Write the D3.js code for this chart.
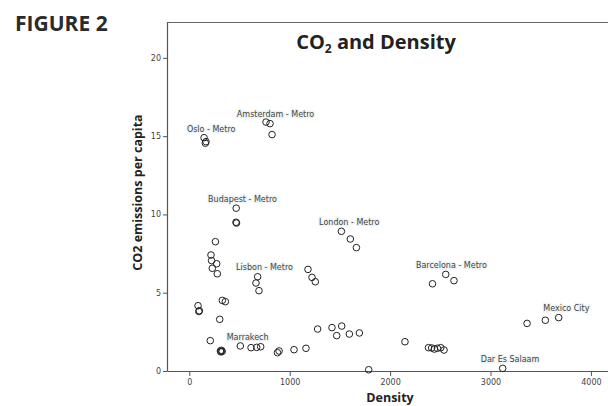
<!DOCTYPE html>
<html>
<head>
<meta charset="utf-8">
<script src="https://cdn.jsdelivr.net/npm/d3@7"></script>
<style>
  html, body { margin: 0; padding: 0; background: #fff; }
  svg { display: block; }
</style>
</head>
<body>
<div id="chart"></div>
<script>
// data
const density = [
  147, 166, 160,
  764, 804, 824,
  467, 465, 470,
  260, 216, 222, 273, 229, 279,
  681, 664, 694,
  1182, 1222, 1255,
  329, 359,
  87, 100, 95,
  303, 209,
  310, 320, 328, 315,
  508, 615, 671, 711,
  878, 894, 1043, 1162,
  1278, 1421, 1468, 1518, 1594, 1694,
  1515, 1604, 1664,
  1787, 2148,
  2382, 2414, 2441, 2471, 2504, 2537,
  2422, 2554, 2636,
  3364, 3546, 3679,
  3121
];
const co2 = [
  14.9, 14.65, 14.55,
  15.9, 15.8, 15.1,
  10.4, 9.5, 9.45,
  8.26, 7.41, 7.05, 6.85, 6.56, 6.21,
  6.02, 5.62, 5.13,
  6.49, 5.98, 5.70,
  4.51, 4.43,
  4.17, 3.85, 3.8,
  3.30, 1.94,
  1.28, 1.32, 1.25, 1.22,
  1.60, 1.49, 1.51, 1.55,
  1.17, 1.28, 1.36, 1.45,
  2.68, 2.77, 2.26, 2.87, 2.36, 2.43,
  8.92, 8.43, 7.88,
  0.08, 1.87,
  1.49, 1.47, 1.40, 1.45, 1.49, 1.34,
  5.57, 6.17, 5.77,
  3.04, 3.24, 3.41,
  0.17
];

// city labels, centred at these data coordinates
const labelNames = ["Oslo - Metro", "Amsterdam - Metro", "Budapest - Metro", "London - Metro",
  "Lisbon - Metro", "Barcelona - Metro", "Mexico City", "Marrakech", "Dar Es Salaam"];
const labelX = [218, 859, 530, 1593, 749, 2610, 3755, 581, 3194];
const labelY = [15.45, 16.37, 10.98, 9.50, 6.60, 6.77, 4.0, 2.19, 0.75];

const xTicks = [0, 1000, 2000, 3000, 4000];
const yTicks = [0, 5, 10, 15, 20];

const W = 608, H = 406;
const plot = { left: 167, top: 22, right: 608, bottom: 371 };

const svg = d3.select("#chart").append("svg")
  .attr("width", W)
  .attr("height", H);

const x = d3.scaleLinear()
  .domain([-222, 4170])
  .range([plot.left, plot.right]);

const y = d3.scaleLinear()
  .domain([0, 22.29])
  .range([plot.bottom, plot.top]);

// frame: top border
svg.append("line")
  .attr("x1", plot.left).attr("x2", plot.right)
  .attr("y1", plot.top + 0.5).attr("y2", plot.top + 0.5)
  .attr("stroke", "#666").attr("stroke-width", 1.2);

const xAxis = svg.append("g")
  .attr("transform", `translate(0,${plot.bottom})`)
  .call(d3.axisBottom(x).tickValues(xTicks).tickFormat(d3.format("d"))
    .tickSize(5).tickSizeOuter(0).tickPadding(3));

const yAxis = svg.append("g")
  .attr("transform", `translate(${plot.left},0)`)
  .call(d3.axisLeft(y).tickValues(yTicks).tickSize(4).tickSizeOuter(0).tickPadding(2));

[xAxis, yAxis].forEach(g => {
  g.select(".domain").attr("stroke", "#555").attr("stroke-width", 1.2);
  g.selectAll(".tick line").attr("stroke", "#555");
  g.selectAll(".tick text")
    .attr("fill", "#444")
    .style("font-family", "DejaVu Sans, sans-serif")
    .style("font-size", "8px");
});

// points
svg.append("g")
  .selectAll("circle")
  .data(density)
  .join("circle")
  .attr("cx", d => x(d))
  .attr("cy", (d, i) => y(co2[i]))
  .attr("r", 3.3)
  .attr("fill", "none")
  .attr("stroke", "#222")
  .attr("stroke-width", 1);

// labels
svg.append("g")
  .selectAll("text")
  .data(labelNames)
  .join("text")
  .attr("x", (d, i) => x(labelX[i]))
  .attr("y", (d, i) => y(labelY[i]))
  .attr("dy", "0.35em")
  .attr("text-anchor", "middle")
  .attr("fill", "#444")
  .attr("stroke", "#eef4f4")
  .attr("stroke-width", 2.5)
  .attr("paint-order", "stroke")
  .style("font-family", "DejaVu Sans, sans-serif")
  .style("font-size", "8px")
  .text(d => d);

// titles
svg.append("text")
  .attr("x", 15).attr("y", 31)
  .attr("fill", "#2b2b2b")
  .style("font-family", "Open Sans, sans-serif")
  .style("font-weight", 700)
  .style("font-size", "21px")
  .text("FIGURE 2");

const title = svg.append("text")
  .attr("x", 376).attr("y", 49)
  .attr("text-anchor", "middle")
  .attr("fill", "#222")
  .style("font-family", "Open Sans, sans-serif")
  .style("font-weight", 700)
  .style("font-size", "20px");
title.append("tspan").text("CO");
title.append("tspan").attr("dy", 4).style("font-size", "12px").text("2");
title.append("tspan").attr("dy", -4).text(" and Density");

svg.append("text")
  .attr("transform", "translate(142,192.5) rotate(-90)")
  .attr("text-anchor", "middle")
  .attr("fill", "#222")
  .style("font-family", "Open Sans, sans-serif")
  .style("font-weight", 700)
  .style("font-size", "12.5px")
  .text("CO2 emissions per capita");

svg.append("text")
  .attr("x", 390).attr("y", 402)
  .attr("text-anchor", "middle")
  .attr("fill", "#222")
  .style("font-family", "Open Sans, sans-serif")
  .style("font-weight", 700)
  .style("font-size", "12.5px")
  .text("Density");
</script>
</body>
</html>
